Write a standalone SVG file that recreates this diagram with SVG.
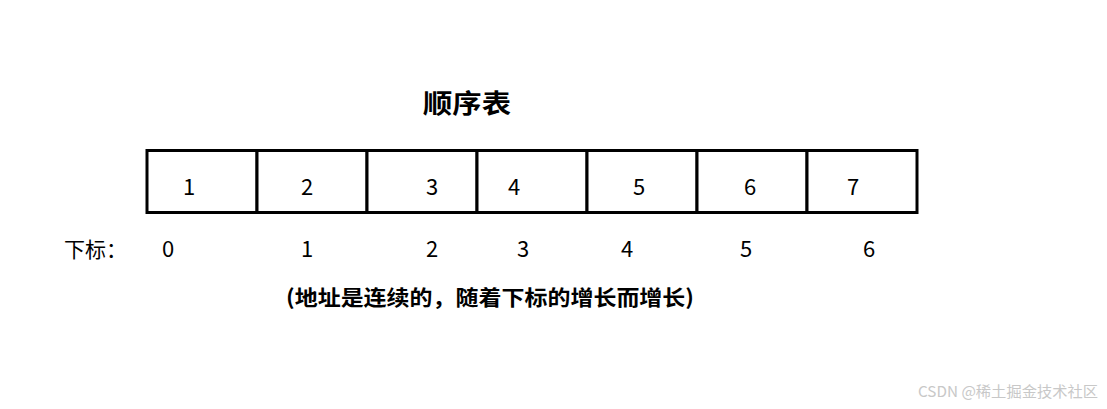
<svg xmlns="http://www.w3.org/2000/svg" width="1107" height="409" viewBox="0 0 1107 409">
<style>
text{font-family:"Noto Sans CJK SC","Noto Sans",sans-serif;fill:#000}
.d{font-size:22px;text-anchor:middle}
.cell{fill:#fff;stroke:#000;stroke-width:3}
</style>
<rect width="1107" height="409" fill="#fff"/>
<text id="title" x="423" y="113" font-size="26" font-weight="bold" textLength="88" lengthAdjust="spacingAndGlyphs">顺序表</text>
<g id="array">
<rect class="cell" x="147" y="150.5" width="110" height="62"/>
<rect class="cell" x="257" y="150.5" width="110" height="62"/>
<rect class="cell" x="367" y="150.5" width="110" height="62"/>
<rect class="cell" x="477" y="150.5" width="110" height="62"/>
<rect class="cell" x="587" y="150.5" width="110" height="62"/>
<rect class="cell" x="697" y="150.5" width="110" height="62"/>
<rect class="cell" x="807" y="150.5" width="110" height="62"/>
<text class="d" x="189" y="195">1</text>
<text class="d" x="307" y="195">2</text>
<text class="d" x="432" y="195">3</text>
<text class="d" x="514" y="195">4</text>
<text class="d" x="639" y="195">5</text>
<text class="d" x="750" y="195">6</text>
<text class="d" x="853" y="195">7</text>
</g>
<g id="index">
<text x="64" y="257" font-size="21">下标：</text>
<text class="d" x="168" y="257">0</text>
<text class="d" x="307" y="257">1</text>
<text class="d" x="432" y="257">2</text>
<text class="d" x="523" y="257">3</text>
<text class="d" x="627" y="257">4</text>
<text class="d" x="746" y="257">5</text>
<text class="d" x="869" y="257">6</text>
</g>
<text id="caption" x="286" y="305" font-size="21" font-weight="bold" textLength="408" lengthAdjust="spacingAndGlyphs">(地址是连续的，随着下标的增长而增长)</text>
<text id="watermark" x="918" y="397" font-size="15" style="fill:#c8c8c8" textLength="180" lengthAdjust="spacingAndGlyphs">CSDN @稀土掘金技术社区</text>
</svg>
